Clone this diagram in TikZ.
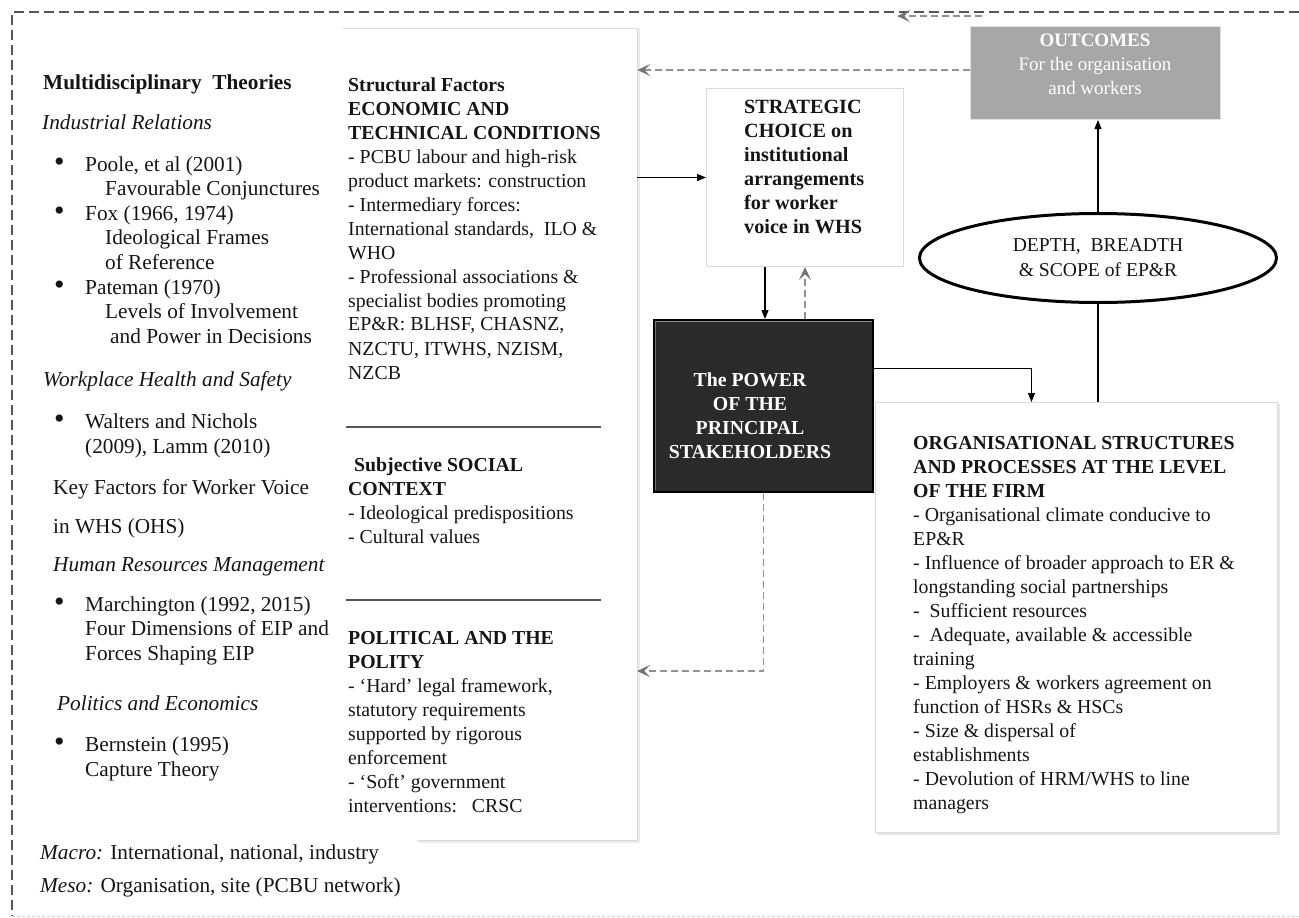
\documentclass[tikz,border=0pt]{standalone}
\usepackage{fontspec}
\setmainfont{Liberation Serif}
\usetikzlibrary{shapes.geometric,arrows.meta}

\definecolor{framegray}{HTML}{555555}
\definecolor{fbgray}{HTML}{929292}
\definecolor{fbhead}{HTML}{747474}
\definecolor{outfill}{HTML}{A9A6A6}
\definecolor{powerfill}{HTML}{2A2A2A}
\definecolor{edgegray}{HTML}{DADADA}
\definecolor{inkblack}{HTML}{151515}

% stacked lines whose baseline is the first line's baseline
\newcommand{\rowsL}[1]{\begin{tabular}[t]{@{}l@{}}#1\end{tabular}}
\newcommand{\rowsC}[1]{\begin{tabular}[t]{@{}c@{}}#1\end{tabular}}
\newcommand{\bulletrows}[1]{\begin{tabular}[t]{@{}p{32pt}@{}l@{}}#1\end{tabular}}
\newcommand{\bigdot}{\hspace*{1pt}{\fontsize{30}{24}\selectfont\textbullet}}

\tikzset{
  lefttxt/.style={inner sep=0pt, anchor=base west, text=inkblack,
                  font=\fontsize{21.3}{24.6}\selectfont},
  midtxt/.style={inner sep=0pt, anchor=base west, text=inkblack,
                 font=\fontsize{19.8}{24}\selectfont},
  whitebox/.style={draw=edgegray, line width=1pt, fill=white,
                   inner sep=0pt, anchor=north west},
  solidarrow/.style={draw=black, line width=1.1pt,
                     -{Triangle[length=9pt,width=7pt]}},
  plainline/.style={draw=black, line width=1.1pt},
  fbarrow/.style={draw=fbgray, line width=1.4pt, dash pattern=on 7pt off 4pt,
                  -{Stealth[length=13pt,width=12pt,inset=6pt,color=fbhead]}},
  sepline/.style={draw=framegray, line width=2pt},
}

\begin{document}
\begin{tikzpicture}[x=1pt,y=-1pt]
\useasboundingbox (0,0) rectangle (1299,918);

% outer dashed frame
\draw[framegray, line width=1.4pt, dash pattern=on 10pt off 5pt]
  (1299,12) -- (12,12) -- (12,916);
\draw[gray!35, line width=1pt, dash pattern=on 3pt off 2pt] (12,916) -- (1299,916);

% ---------------- left column: theories ----------------
\node[lefttxt] (theories) at (43,89) {\textbf{Multidisciplinary\ \ Theories}};
\node[lefttxt] (irel) at (42,129) {\textit{Industrial Relations}};
\node[lefttxt, font=\fontsize{21.3}{24.6}\selectfont] (irlist) at (53,171) {\bulletrows{%
  \bigdot & Poole, et al (2001)\\
  & \hspace*{20pt}Favourable Conjunctures\\
  \bigdot & Fox (1966, 1974)\\
  & \hspace*{20pt}Ideological Frames\\
  & \hspace*{20pt}of Reference\\
  \bigdot & Pateman (1970)\\
  & \hspace*{20pt}Levels of Involvement\\
  & \hspace*{25pt}and Power in Decisions}};
\node[lefttxt] (whs) at (43,386) {\textit{Workplace Health and Safety}};
\node[lefttxt, font=\fontsize{21.3}{25}\selectfont] (whslist) at (53,428) {\bulletrows{%
  \bigdot & Walters and Nichols\\
  & (2009), Lamm (2010)}};
\node[lefttxt] (keyf) at (53,494) {\rowsL{Key Factors for Worker Voice\\[14.4pt] in WHS (OHS)}};
\node[lefttxt] (hrm) at (53,571) {\textit{Human Resources Management}};
\node[lefttxt, font=\fontsize{21.3}{24.5}\selectfont] (hrmlist) at (53,611) {\bulletrows{%
  \bigdot & Marchington (1992, 2015)\\
  & Four Dimensions\ of EIP and\\
  & Forces Shaping EIP}};
\node[lefttxt] (poleco) at (57,710) {\textit{Politics and Economics}};
\node[lefttxt, font=\fontsize{21.3}{25.5}\selectfont] (pelist) at (53,751) {\bulletrows{%
  \bigdot & Bernstein (1995)\\
  & Capture Theory}};
\node[lefttxt] (macro) at (40,859) {\textit{Macro:} International, national, industry};
\node[lefttxt] (meso) at (40,892) {\textit{Meso:} Organisation, site (PCBU network)};

% ---------------- middle column: contextual factors ----------------
\node[inner sep=0pt, anchor=north west, minimum width=294pt, minimum height=812pt]
  (factors) at (343,28) {};
\draw[black!8, line width=2pt] ([xshift=2pt]factors.north east) -- ([shift={(2pt,-2pt)}]factors.south east)
  -- ([xshift=76pt,yshift=-2pt]factors.south west);
\draw[edgegray, line width=1pt] (factors.north west) -- (factors.north east)
  -- (factors.south east) -- ([xshift=74pt]factors.south west);

\node[midtxt] (structural) at (348,91) {\rowsL{%
  \textbf{Structural Factors}\\
  \textbf{ECONOMIC AND}\\
  \textbf{TECHNICAL CONDITIONS}\\
  - PCBU labour and high-risk\\
  product markets: construction\\
  - Intermediary forces:\\
  International standards,\ \ ILO \&\\
  WHO\\
  - Professional associations \&\\
  specialist bodies promoting\\
  EP\&R: BLHSF, CHASNZ,\\
  NZCTU, ITWHS, NZISM,\\
  NZCB}};
\draw[sepline] (346,427) -- (601,427);
\node[midtxt] (social) at (348,471) {\rowsL{%
  \hspace*{6pt}\textbf{Subjective SOCIAL}\\
  \textbf{CONTEXT}\\
  - Ideological predispositions\\
  - Cultural values}};
\draw[sepline] (346,600) -- (601,600);
\node[midtxt] (polity) at (348,644) {\rowsL{%
  \textbf{POLITICAL AND THE}\\
  \textbf{POLITY}\\
  - ‘Hard’ legal framework,\\
  statutory requirements\\
  supported by rigorous\\
  enforcement\\
  - ‘Soft’ government\\
  interventions:\ \ \ CRSC}};

% ---------------- strategic choice ----------------
\node[whitebox, minimum width=197pt, minimum height=178pt] (strategic) at (706,88) {};
\node[midtxt, font=\fontsize{20.2}{24}\selectfont\bfseries] (strategictxt) at (744,113) {\rowsL{%
  STRATEGIC\\ CHOICE on\\ institutional\\ arrangements\\ for worker\\ voice in WHS}};

% ---------------- power of the stakeholders ----------------
\node[inner sep=0pt, anchor=north west, minimum width=219pt, minimum height=172pt,
      fill=powerfill, draw=black, line width=1.5pt] (power) at (653,319) {};
\draw[black!45, line width=1.5pt] ([shift={(2pt,-2.5pt)}]power.north west) -- ([shift={(-2pt,-2.5pt)}]power.north east);
\draw[black!55, line width=1.2pt] ([shift={(2.5pt,-3pt)}]power.north west) -- ([shift={(2.5pt,3pt)}]power.south west);
\node[inner sep=0pt, anchor=base, text=white, font=\fontsize{19.8}{24}\selectfont\bfseries]
  (powertxt) at (750,386) {\rowsC{The POWER\\ OF THE\\ PRINCIPAL\\ STAKEHOLDERS}};

% ---------------- outcomes ----------------
\node[inner sep=0pt, anchor=north west, minimum width=250pt, minimum height=93pt,
      fill=outfill, draw=black!12, line width=1pt] (outcomes) at (970,26) {};
\node[inner sep=0pt, anchor=base, text=white, font=\fontsize{19}{24}\selectfont]
  (outcomestxt) at (1095,46) {\rowsC{\textbf{OUTCOMES}\\ For the organisation\\ and workers}};

% ---------------- depth, breadth and scope ----------------
\node[ellipse, draw=black, line width=3pt, inner sep=0pt, minimum width=357pt,
      minimum height=89pt, align=center, text=inkblack,
      font=\fontsize{19.6}{25}\selectfont] (scope) at (1098,258)
  {DEPTH,\ \ BREADTH\\ \& SCOPE of EP\&R};

% ---------------- organisational structures ----------------
\draw[black!10, line width=2.5pt] (877.5,834) -- (1279,834) -- (1279,404);
\node[whitebox, minimum width=402pt, minimum height=430pt] (org) at (875,402) {};
\node[midtxt] (orgtxt) at (913,449) {\rowsL{%
  \textbf{ORGANISATIONAL STRUCTURES}\\
  \textbf{AND PROCESSES AT THE LEVEL}\\
  \textbf{OF THE FIRM}\\
  - Organisational climate conducive to\\
  EP\&R\\
  - Influence of broader approach to ER \&\\
  longstanding social partnerships\\
  -\ \ Sufficient resources\\
  -\ \ Adequate, available \& accessible\\
  training\\
  - Employers \& workers agreement on\\
  function of HSRs \& HSCs\\
  - Size \& dispersal of\\
  establishments\\
  - Devolution of HRM/WHS to line\\
  managers}};

% ---------------- connectors ----------------
\coordinate (loopstart) at (982,16);
\coordinate (loopend) at (897,16);
\coordinate (polback) at (637,671);

\draw[fbarrow] (loopstart) -- (loopend);
\draw[fbarrow] ([yshift=3pt]outcomes.west) -- ([yshift=3pt]outcomes.west -| factors.east);
\draw[solidarrow] (factors.east |- strategic.west) -- (strategic.west);
\draw[solidarrow] ([xshift=-40pt]strategic.south) -- ([xshift=-40pt]strategic.south |- power.north);
\draw[fbarrow] (power.north -| strategic.south) -- (strategic.south);
\draw[solidarrow] ([yshift=37pt]power.east) -| ([xshift=-45pt]org.north);
\draw[plainline] (org.north -| scope.south) -- (scope.south);
\draw[solidarrow] (scope.north) -- (scope.north |- outcomes.south);
\draw[fbarrow] (power.south) |- (polback);

\end{tikzpicture}
\end{document}
